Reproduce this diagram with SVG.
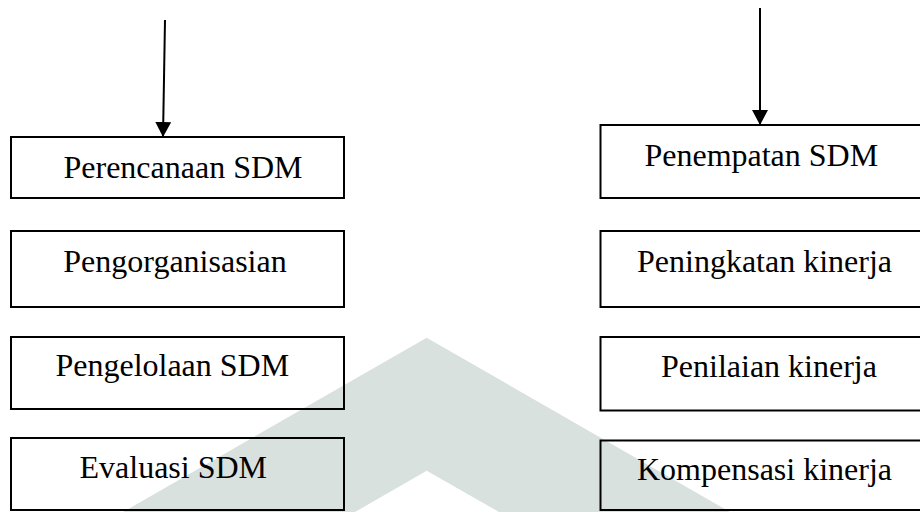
<svg xmlns="http://www.w3.org/2000/svg" width="920" height="512" viewBox="0 0 920 512">
  <style>
    .box { fill: none; stroke: #000; stroke-width: 2; }
    .lbl { font-family: "Liberation Serif", "Times New Roman", serif; font-size: 32px; fill: #000; text-anchor: middle; }
    .conn { stroke: #000; stroke-width: 2; fill: none; }
  </style>
  <defs>
    <marker id="ah" markerWidth="16" markerHeight="16" refX="15" refY="8" orient="auto" markerUnits="userSpaceOnUse">
      <path d="M0,0 L15,8 L0,16 z" fill="#000"/>
    </marker>
  </defs>
  <rect x="0" y="0" width="920" height="512" fill="#fff"/>
  <polygon id="watermark" points="426.7,337.7 730,512 499,512 426.7,470.7 355,512 123,512" fill="#d9e1de"/>

  <g id="connectors">
    <line class="conn" x1="165" y1="20" x2="163" y2="137" marker-end="url(#ah)"/>
    <line class="conn" x1="760" y1="8" x2="760" y2="125" marker-end="url(#ah)"/>
  </g>

  <g id="perencanaan">
    <rect class="box" x="11" y="137" width="333" height="61"/>
    <text class="lbl" x="183" y="177.7">Perencanaan SDM</text>
  </g>
  <g id="pengorganisasian">
    <rect class="box" x="11" y="231" width="333" height="76"/>
    <text class="lbl" x="175" y="271.7">Pengorganisasian</text>
  </g>
  <g id="pengelolaan">
    <rect class="box" x="11" y="337" width="333" height="72"/>
    <text class="lbl" x="172.3" y="376">Pengelolaan SDM</text>
  </g>
  <g id="evaluasi">
    <rect class="box" x="11" y="438" width="333" height="72"/>
    <text class="lbl" x="173.3" y="477.7">Evaluasi SDM</text>
  </g>

  <g id="penempatan">
    <rect class="box" x="600.5" y="125" width="330" height="73"/>
    <text class="lbl" x="761.3" y="165.7">Penempatan SDM</text>
  </g>
  <g id="peningkatan">
    <rect class="box" x="600.5" y="231" width="330" height="76"/>
    <text class="lbl" x="764.5" y="271.7">Peningkatan kinerja</text>
  </g>
  <g id="penilaian">
    <rect class="box" x="600.5" y="337" width="330" height="73.5"/>
    <text class="lbl" x="769" y="376.7">Penilaian kinerja</text>
  </g>
  <g id="kompensasi">
    <rect class="box" x="600.5" y="440.5" width="330" height="69.5"/>
    <text class="lbl" x="764.5" y="480">Kompensasi kinerja</text>
  </g>
</svg>
